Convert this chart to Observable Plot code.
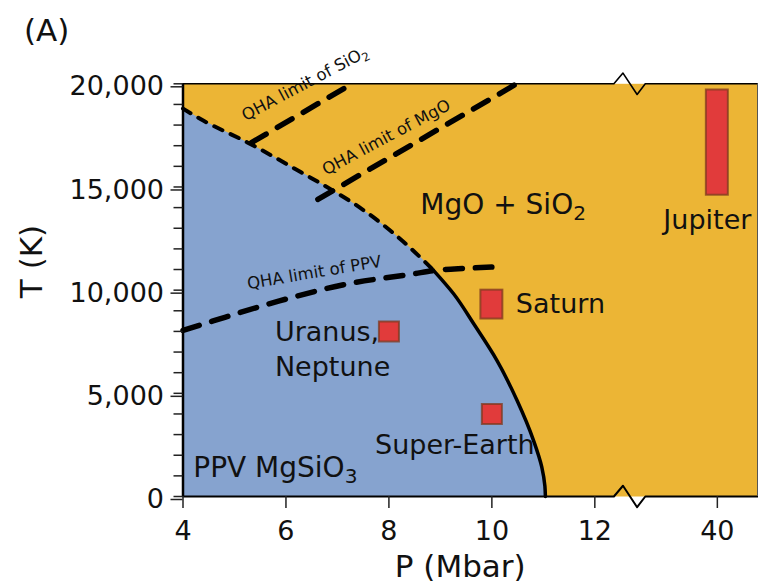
<!DOCTYPE html>
<html>
<head>
<meta charset="utf-8">
<script src="https://cdn.jsdelivr.net/npm/d3@7"></script>
<script src="https://cdn.jsdelivr.net/npm/@observablehq/plot@0.6"></script>
<style>
  body { margin: 0; background: #fff; font-family: "DejaVu Sans", sans-serif; }
  #wrap { position: relative; width: 758px; height: 583px; }
  #panel { position: absolute; left: 24px; top: 15px; font-size: 31px; line-height: 1; color: #111; }
</style>
</head>
<body>
<div id="wrap"><div id="panel">(A)</div></div>
<script>
// Phase boundary between post-perovskite MgSiO3 and MgO + SiO2 (P in Mbar, T in K)
const boundaryP = [4.0, 4.34, 5.25, 6.09, 7.43, 8.22, 8.61, 8.87, 9.26, 9.65, 10.10, 10.49, 10.81, 10.97, 11.03, 11.04];
const boundaryT = [18800, 18290, 17160, 16000, 14010, 12480, 11590, 10950, 9815, 8360, 6590, 4650, 2710, 1420, 500, 0];
const reliableBelowT = 10950; // boundary is solid below this temperature, dashed above

// Validity limits of the quasi-harmonic approximation
const ppvLimitP = [4.0, 4.6, 5.89, 7.19, 8.48, 8.87, 9.5, 10.0];
const ppvLimitT = [8050, 8520, 9490, 10300, 10790, 10950, 11060, 11120];
const mgoLimitP = [6.62, 10.48];
const mgoLimitT = [14400, 20000];
const sio2LimitP = [5.33, 7.28];
const sio2LimitT = [17150, 20000];

// Planetary interior conditions
const pointPlanets = ["Uranus,\nNeptune", "Super-Earth"];
const pointP = [8, 10];
const pointT = [8000, 4000];
const rangePlanets = ["Saturn", "Jupiter"];
const rangeP = [10, 40];
const rangeTMin = [8600, 14600];
const rangeTMax = [10000, 19700];

// Axis ticks
const xTicks = [4, 6, 8, 10, 12, 40];
const yTicks = [0, 5000, 10000, 15000, 20000];
const yMinorTicks = d3.range(0, 20001, 1000);

// Broken pressure axis: values beyond the break sit on a compressed far segment
const breakFrom = 12.37, breakTo = 12.98;
const farOrigin = 40, farPos = 14.38, farScale = 0.05;
const pos = p => p < breakFrom ? p : farPos + (p - farOrigin) * farScale;
const unpos = x => x < breakFrom ? x : Math.round(farOrigin + (x - farPos) / farScale);
const xMax = 15.16, tMax = 20000, zigAmp = 520;
const zigShape = [[0, 0], [0.29, 1], [0.74, -1], [1, 0]];
const edgeWithBreak = (t, sign) => [
  {x: 4, t},
  ...zigShape.map(([f, a]) => ({x: breakFrom + f * (breakTo - breakFrom), t: t + sign * a * zigAmp})),
  {x: xMax, t}
];

const ORANGE = "#ecb535";
const BLUE = "#86a3cf";
const RED = "#e13b3b";
const INK = "#111";

const boundary = boundaryP.map((p, i) => ({p, t: boundaryT[i]}));
const boundarySolid = boundary.filter(d => d.t <= reliableBelowT);
const boundaryDashed = boundary.filter(d => d.t >= reliableBelowT);
const ppvLimit = ppvLimitP.map((p, i) => ({p, t: ppvLimitT[i]}));
const mgoLimit = mgoLimitP.map((p, i) => ({p, t: mgoLimitT[i]}));
const sio2Limit = sio2LimitP.map((p, i) => ({p, t: sio2LimitT[i]}));
const points = pointPlanets.map((name, i) => ({name, p: pointP[i], t: pointT[i]}));
const ranges = rangePlanets.map((name, i) => ({name, p: rangeP[i], tMin: rangeTMin[i], tMax: rangeTMax[i]}));

const limitStyle = {x: "p", y: "t", stroke: "black", strokeWidth: 5.5, strokeDasharray: "17,13"};
const markerStyle = {fill: RED, stroke: "#7d3a1f", strokeWidth: 2, strokeOpacity: 0.75, ariaLabel: "planet"};
const labelStyle = {fontSize: 16.5, fill: INK, lineAnchor: "middle"};
const bigText = {fontSize: 27, fill: INK, lineAnchor: "middle"};

const chart = Plot.plot({
  width: 758,
  height: 583,
  marginLeft: 182.5,
  marginRight: 1,
  marginTop: 83.3,
  marginBottom: 87,
  x: {domain: [4, xMax], axis: null},
  y: {domain: [0, tMax], axis: null},
  style: {fontFamily: "DejaVu Sans, sans-serif", fontSize: "27px", background: "transparent", overflow: "visible", color: INK},
  marks: [
    Plot.frame({fill: ORANGE, stroke: "none"}),
    Plot.areaX(boundary, {y: "t", x1: 4, x2: "p", curve: "monotone-y", fill: BLUE}),

    Plot.line(sio2Limit, limitStyle),
    Plot.line(mgoLimit, limitStyle),
    Plot.line(ppvLimit, {...limitStyle, curve: "monotone-x"}),
    Plot.line(boundaryDashed, {x: "p", y: "t", curve: "monotone-y", stroke: "black", strokeWidth: 4, strokeDasharray: "9,9"}),
    Plot.line(boundarySolid, {x: "p", y: "t", curve: "monotone-y", stroke: "black", strokeWidth: 3.5}),

    // Frame with the axis break
    Plot.line(edgeWithBreak(tMax, 1), {x: "x", y: "t", stroke: "black", strokeWidth: 1.6}),
    Plot.line(edgeWithBreak(0, 1), {x: "x", y: "t", stroke: "black", strokeWidth: 2}),
    Plot.ruleX([4], {y1: 0, y2: tMax, stroke: "black", strokeWidth: 2.5}),
    Plot.ruleX([xMax], {y1: 0, y2: tMax, stroke: "#555", strokeWidth: 1}),

    // Axes
    Plot.axisY(yMinorTicks, {tickSize: 9, tickFormat: () => "", stroke: "#222", strokeWidth: 1.5}),
    Plot.axisY(yTicks, {tickSize: 12, tickPadding: 7, tickFormat: d3.format(","), fontSize: 27, stroke: "#222", strokeWidth: 1.5, fill: INK, dy: 3}),
    Plot.axisX(xTicks.map(pos), {tickSize: 12, tickPadding: 12, tickFormat: d => `${unpos(d)}`, fontSize: 27, stroke: "#222", strokeWidth: 1.5, fill: INK}),
    Plot.text(["P (Mbar)"], {frameAnchor: "bottom", dx: -10, dy: 71, fontSize: 31, fill: INK, lineAnchor: "middle"}),
    Plot.text(["T (K)"], {frameAnchor: "left", dx: -151, dy: 8, rotate: -90, fontSize: 31, fill: INK, lineAnchor: "middle"}),

    // QHA limit labels
    Plot.text(["QHA limit of SiO₂"], {x: 6.37, y: 20010, rotate: -28, ...labelStyle}),
    Plot.text(["QHA limit of MgO"], {x: 7.95, y: 17400, rotate: -28, ...labelStyle}),
    Plot.text(["QHA limit of PPV"], {x: 6.55, y: 10850, rotate: -9.6, ...labelStyle}),

    // Phase labels
    Plot.text(["MgO + SiO₂"], {x: 10.22, y: 14130, ...bigText, fontSize: 28}),
    Plot.text(["PPV MgSiO₃"], {x: 4.2, y: 1400, textAnchor: "start", ...bigText, fontSize: 28}),

    // Planets
    Plot.rect(ranges, {x1: d => pos(d.p), x2: d => pos(d.p), y1: "tMin", y2: "tMax", insetLeft: -11, insetRight: -11, ...markerStyle}),
    Plot.dot(points, {x: d => pos(d.p), y: "t", symbol: "square", r: 11.3, ...markerStyle}),
    Plot.text(ranges.filter(d => d.name === "Saturn"), {x: d => pos(d.p), y: d => (d.tMin + d.tMax) / 2, text: "name", textAnchor: "start", dx: 24, ...bigText}),
    Plot.text(ranges.filter(d => d.name === "Jupiter"), {x: d => pos(d.p), y: "tMin", text: "name", dx: -10, dy: 25, ...bigText}),
    Plot.text(points.filter(d => d.name === "Super-Earth"), {x: d => pos(d.p), y: "t", text: "name", dx: -37, dy: 31, ...bigText}),
    Plot.text(points.filter(d => d.name.startsWith("Uranus")), {x: d => pos(d.p), y: "t", text: "name", textAnchor: "start", dx: -114, dy: 15.6, lineHeight: 1.31, ...bigText})
  ]
});

// Soften the planet markers
d3.select(chart).selectAll('g[aria-label="planet"]').style("filter", "blur(0.7px)");

// Typeset chemical subscripts
d3.select(chart).selectAll("text").each(function () {
  const el = this;
  if (el.querySelector("tspan")) return;
  const s = el.textContent;
  const m = s.match(/^(.*?)([₀-₉])$/);
  if (!m) return;
  const digit = String.fromCharCode(m[2].charCodeAt(0) - 0x2080 + 48);
  el.textContent = m[1];
  const sub = document.createElementNS("http://www.w3.org/2000/svg", "tspan");
  sub.setAttribute("font-size", "72%");
  sub.setAttribute("dy", "0.32em");
  sub.textContent = digit;
  el.appendChild(sub);
});

document.getElementById("wrap").appendChild(chart);
</script>
</body>
</html>
